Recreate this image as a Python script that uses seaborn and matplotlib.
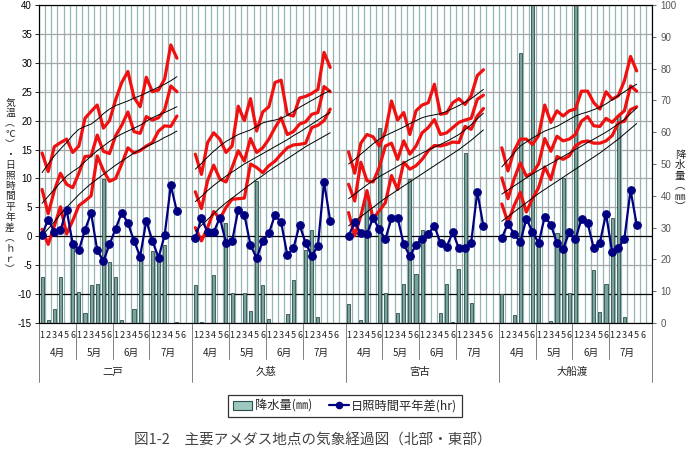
import numpy as np
import pandas as pd
import matplotlib
matplotlib.use("Agg")
import matplotlib.pyplot as plt
import seaborn as sns
from matplotlib.transforms import blended_transform_factory
from matplotlib.patches import Patch
from matplotlib.lines import Line2D

# ---------------- data ----------------
stations = ["二戸", "久慈", "宮古", "大船渡"]
months = ["4月", "5月", "6月", "7月"]
pentads = ["1", "2", "3", "4", "5", "6"]

# 二戸
max1 = [14.4, 11.2, 15.5, 16.2, 16.8, 14.5, 15.6, 20.4, 21.6, 22.7, 18.7, 20.0, 23.6, 26.6, 28.5, 24.0, 22.4, 27.5, 25.0, 25.3, 27.2, 33.1, 30.8]
mean1 = [8.1, 3.9, 7.9, 10.9, 9.0, 8.4, 10.9, 13.8, 13.9, 17.5, 14.7, 14.3, 17.4, 19.2, 21.5, 18.1, 17.8, 20.7, 20.1, 20.5, 21.9, 26.0, 25.0]
min1 = [1.2, -1.4, 1.8, 5.1, 0.4, 2.7, 5.3, 6.1, 7.0, 13.9, 11.4, 9.5, 10.0, 12.5, 15.3, 14.4, 14.8, 15.6, 16.2, 18.2, 19.1, 19.0, 20.8]
nmax1 = [11.0, 12.5, 13.9, 15.1, 16.2, 17.5, 18.5, 19.0, 19.4, 20.2, 21.2, 22.0, 22.6, 23.0, 23.4, 23.9, 24.3, 24.8, 25.3, 25.8, 26.3, 26.9, 27.6]
nmean1 = [5.7, 6.9, 8.1, 9.3, 10.4, 11.2, 11.9, 12.9, 13.9, 14.8, 15.6, 16.4, 17.1, 17.7, 18.2, 18.7, 19.2, 19.9, 20.5, 21.0, 21.4, 21.9, 22.4]
nmin1 = [0.1, 1.3, 2.5, 3.8, 5.0, 6.1, 7.2, 8.2, 9.1, 9.9, 10.7, 11.5, 12.3, 13.0, 13.7, 14.4, 15.0, 15.5, 16.0, 16.5, 17.1, 17.6, 18.2]
sun1 = [0.3, 2.9, 0.8, 1.0, 4.6, -1.3, -2.4, 1.1, 4.0, -2.4, -4.3, -1.4, 1.3, 4.1, 2.3, -0.8, -3.5, 2.7, -0.8, -3.7, 0.2, 8.8, 4.3]
prec1 = [14.6, 0.8, 4.3, 14.5, 0, 24.6, 9.6, 3.1, 12.0, 12.4, 45.4, 19.1, 14.6, 1.0, 0, 4.3, 21.2, 0, 22.5, 21.0, 24.5, 0, 0.4, 0]

# 久慈
max2 = [14.2, 10.7, 16.2, 17.9, 16.8, 14.5, 15.6, 22.5, 20.0, 23.8, 18.2, 21.5, 22.4, 26.6, 27.0, 21.1, 20.8, 23.9, 24.2, 24.7, 25.4, 31.8, 29.2]
mean2 = [7.7, 4.8, 9.6, 12.3, 9.9, 9.4, 11.9, 14.8, 13.0, 16.9, 14.5, 15.3, 16.8, 18.8, 20.5, 17.6, 18.1, 19.4, 19.8, 21.1, 21.4, 25.9, 25.0]
min2 = [1.5, -0.8, 1.5, 4.3, 3.0, 5.0, 6.4, 6.5, 6.6, 12.5, 11.9, 11.0, 12.2, 13.0, 14.2, 15.3, 15.8, 15.9, 16.1, 18.8, 19.2, 20.0, 22.0]
nmax2 = [11.6, 12.6, 13.7, 14.7, 15.6, 16.4, 17.0, 17.6, 18.0, 18.4, 19.0, 19.6, 19.9, 20.1, 20.4, 20.9, 21.6, 22.3, 22.9, 23.5, 24.1, 24.7, 25.2]
nmean2 = [6.0, 6.9, 7.9, 8.8, 9.6, 10.4, 11.1, 11.8, 12.5, 13.1, 13.7, 14.3, 14.9, 15.5, 16.1, 16.7, 17.4, 18.0, 18.7, 19.4, 20.1, 20.8, 21.4]
nmin2 = [0.9, 1.9, 2.9, 3.9, 4.9, 5.8, 6.6, 7.4, 8.2, 9.0, 9.8, 10.5, 11.3, 12.0, 12.7, 13.4, 14.1, 14.8, 15.5, 16.1, 16.7, 17.3, 17.9]
sun2 = [-0.3, 3.1, 0.7, 0.7, 3.2, -1.1, -0.9, 4.6, 3.7, -1.5, -3.8, -0.8, 0.5, 3.7, 2.4, -3.2, -2.1, 2.0, -1.2, -3.4, -1.6, 9.4, 2.7]
prec2 = [12.0, 0.4, 0, 15.1, 0, 31.5, 9.5, 0, 9.5, 3.8, 44.6, 11.8, 1.4, 0, 0, 2.9, 13.4, 0, 23.1, 29.4, 1.9, 0, 0, 0]

# 宮古
max3 = [14.6, 10.9, 16.1, 17.6, 17.2, 15.6, 18.1, 23.4, 20.1, 21.4, 17.6, 21.7, 22.7, 23.1, 26.3, 21.1, 21.3, 23.1, 23.8, 22.8, 24.3, 27.8, 28.8]
mean3 = [9.0, 6.1, 12.8, 9.6, 9.4, 11.9, 15.6, 16.1, 13.3, 16.5, 14.2, 15.6, 17.9, 18.8, 20.2, 17.6, 17.9, 18.8, 19.7, 20.1, 20.4, 23.7, 24.4]
min3 = [4.1, 0.1, 3.5, 7.9, 3.0, 4.4, 5.8, 10.5, 8.1, 12.8, 11.6, 12.2, 13.3, 14.8, 15.7, 15.6, 15.9, 16.3, 16.2, 19.0, 18.5, 20.8, 22.1]
nmax3 = [12.5, 13.3, 14.2, 15.1, 16.0, 16.8, 17.4, 17.9, 18.4, 18.9, 19.5, 20.0, 20.5, 20.8, 21.0, 21.2, 21.6, 22.1, 22.6, 23.2, 23.8, 24.6, 25.4]
nmean3 = [6.5, 7.3, 8.1, 8.9, 9.6, 10.3, 10.9, 11.5, 12.1, 12.7, 13.3, 13.8, 14.4, 14.9, 15.4, 15.9, 16.4, 17.0, 17.6, 18.4, 19.3, 20.3, 21.3]
nmin3 = [1.8, 2.6, 3.4, 4.2, 5.0, 5.8, 6.6, 7.3, 8.0, 8.7, 9.4, 10.1, 10.8, 11.5, 12.2, 12.9, 13.6, 14.3, 15.0, 15.8, 16.6, 17.5, 18.4]
sun3 = [0.1, 2.4, 0.5, 0.4, 3.2, 1.2, -0.5, 3.1, 3.2, -1.4, -3.4, -1.5, -0.5, 0.4, 1.8, -1.2, -1.8, 0.7, -2.1, -2.1, -1.1, 7.7, 1.7]
prec3 = [6.0, 0, 1.0, 40.0, 0, 61.3, 9.5, 0, 3.2, 12.4, 45.2, 15.4, 29.1, 0, 0, 3.2, 12.4, 0.3, 17.0, 53.6, 6.3, 0, 0, 0]

# 大船渡
max4 = [15.3, 11.3, 14.8, 16.8, 16.8, 15.9, 17.4, 22.7, 19.7, 21.7, 20.8, 21.7, 22.0, 25.1, 25.1, 23.1, 22.0, 25.0, 23.7, 24.3, 26.9, 31.1, 28.6]
mean4 = [10.1, 6.5, 9.9, 12.7, 10.4, 10.9, 12.5, 16.9, 14.7, 17.3, 16.5, 16.8, 17.6, 19.9, 20.7, 19.1, 19.0, 20.4, 19.7, 20.8, 21.7, 26.0, 25.1]
min4 = [5.6, 2.4, 5.3, 7.6, 4.2, 6.5, 8.4, 12.0, 9.8, 13.8, 13.3, 13.9, 15.6, 16.3, 16.5, 16.1, 16.1, 16.5, 17.4, 19.6, 19.9, 21.9, 22.4]
nmax4 = [12.0, 13.2, 14.4, 15.6, 16.3, 17.0, 17.6, 18.2, 18.6, 19.0, 19.6, 20.2, 20.8, 21.2, 21.5, 21.9, 22.3, 22.9, 23.6, 24.3, 25.0, 25.7, 26.3]
nmean4 = [7.3, 8.0, 8.7, 9.4, 10.1, 10.8, 11.4, 12.0, 12.6, 13.2, 13.8, 14.4, 15.0, 15.6, 16.2, 16.8, 17.4, 18.0, 18.7, 19.4, 20.2, 21.2, 22.2]
nmin4 = [2.6, 3.4, 4.2, 5.0, 5.8, 6.6, 7.4, 8.1, 8.8, 9.5, 10.2, 10.9, 11.6, 12.3, 13.0, 13.7, 14.4, 15.2, 16.0, 16.8, 17.7, 18.6, 19.5]
sun4 = [-0.3, 2.2, 0.4, -1.0, 3.0, 0.8, -1.2, 3.4, 2.0, -1.2, -2.2, 0.7, -0.5, 3.0, 2.3, -2.1, -1.1, 3.9, -2.8, -2.1, -0.4, 8.0, 2.0]
prec4 = [9.0, 0, 2.4, 85.0, 0, 110.0, 25.0, 0, 0.5, 28.4, 45.5, 9.4, 105.0, 0, 0, 16.6, 3.4, 12.4, 33.0, 65.3, 1.9, 0, 0, 0]

temp_max = [max1, max2, max3, max4]
temp_mean = [mean1, mean2, mean3, mean4]
temp_min = [min1, min2, min3, min4]
norm_max = [nmax1, nmax2, nmax3, nmax4]
norm_mean = [nmean1, nmean2, nmean3, nmean4]
norm_min = [nmin1, nmin2, nmin3, nmin4]
sunshine = [sun1, sun2, sun3, sun4]
precip = [prec1, prec2, prec3, prec4]

# ---------------- categories ----------------
order = []
rows = []
for si, st in enumerate(stations):
    for mi, mo in enumerate(months):
        for pi, pe in enumerate(pentads):
            cat = f"{st}{mo}{pe}"
            order.append(cat)
            rows.append({"cat": cat, "precip": precip[si][mi * 6 + pi]})
    order.append(f"{st}-blank")
dfp = pd.DataFrame(rows)
slot = 25  # 24 pentads + 1 blank per station

# ---------------- style ----------------
sns.set_theme(style="white")
plt.rcParams['font.family'] = ['Noto Sans CJK JP', 'DejaVu Sans']

W, H = 690, 455
fig = plt.figure(figsize=(W / 100, H / 100), dpi=100)
L, R, T, B = 39, 652, 5, 323
axb = fig.add_axes([L / W, 1 - B / H, (R - L) / W, (B - T) / H])
axt = axb.twinx()

grid_v = "#95B4B4"
grid_h = "#A6A6A6"

# bars (precipitation, right axis)
sns.barplot(data=dfp, x="cat", y="precip", order=order, ax=axb,
            color="#7BA39D", saturation=1, width=0.5, errorbar=None,
            edgecolor="#2F4F4A", linewidth=0.6, zorder=2)
axb.set_ylim(0, 100)

# gridlines on the bottom axes
for k in range(len(order) + 1):
    axb.axvline(k - 0.5, color=grid_v, lw=0.9, zorder=0.5)
for v in range(-15, 41, 5):
    p = (v + 15) / 55 * 100
    col = "black" if v in (0, -10) else grid_h
    axb.axhline(p, color=col, lw=0.9, zorder=0.6)

# lines (temperature & sunshine, left axis)
for si in range(4):
    xs = si * slot + np.arange(len(temp_max[si]))
    for series in (temp_max, temp_mean, temp_min):
        sns.lineplot(x=xs, y=series[si], ax=axt, color="#F01010", linewidth=2.3,
                     errorbar=None, sort=False, legend=False)
    for series in (norm_max, norm_mean, norm_min):
        sns.lineplot(x=xs, y=series[si], ax=axt, color="black", linewidth=0.7,
                     errorbar=None, sort=False, legend=False)
    sns.lineplot(x=xs, y=sunshine[si], ax=axt, color="#000080", linewidth=1.6,
                 marker="o", markersize=5.5, markeredgecolor="#000080",
                 errorbar=None, sort=False, legend=False)

axt.set_ylim(-15, 40)
axb.set_xlim(-0.5, len(order) - 0.5)

# axes cosmetics
for ax in (axb, axt):
    ax.set_xlabel("")
    ax.set_ylabel("")
    for sp in ax.spines.values():
        sp.set_color("black")
        sp.set_linewidth(0.8)
axb.set_xticks(np.arange(-0.5, len(order), 1))
axb.set_xticklabels([])
axb.tick_params(axis="x", length=3, width=0.6, color="#808080", direction="out")
axt.tick_params(axis="x", length=0)

axt.yaxis.tick_left()
axt.yaxis.set_label_position("left")
axb.yaxis.tick_right()
axb.yaxis.set_label_position("right")
axt.set_yticks(range(-15, 41, 5))
axt.set_yticklabels([str(v) for v in range(-15, 41, 5)], family="Liberation Sans", fontsize=7)
axt.tick_params(axis="y", length=3, width=0.6, direction="out", pad=2, colors="black")
axb.set_yticks(range(0, 101, 10))
axb.set_yticklabels([str(v) for v in range(0, 101, 10)], family="Liberation Sans", fontsize=7, color="#555555")
axb.tick_params(axis="y", length=3, width=0.6, direction="out", pad=3, color="#555555")

# category labels below the axis
tr = blended_transform_factory(axt.transData, axt.transAxes)
ph = B - T
def yax(ypix):
    return -(ypix - B) / ph

for si, st in enumerate(stations):
    base = si * slot
    for mi, mo in enumerate(months):
        for pi, pe in enumerate(pentads):
            axt.text(base + mi * 6 + pi, yax(335), pe, transform=tr, ha="center",
                     va="center", fontsize=6.5, color="#222222")
        axt.text(base + mi * 6 + 2.5, yax(353), mo, transform=tr, ha="center",
                 va="center", fontsize=7, color="#222222")
        if mi > 0:
            xsep = base + mi * 6 - 0.5
            axt.plot([xsep, xsep], [0, yax(359)], transform=tr, color="#808080",
                     lw=0.7, clip_on=False)
    axt.text(base + 11.5, yax(372), st, transform=tr, ha="center", va="center",
             fontsize=7.5, color="#222222")
for si in range(5):
    xsep = si * slot - 0.5
    axt.plot([xsep, xsep], [0, yax(382)], transform=tr, color="#808080",
             lw=0.7, clip_on=False)

# axis titles (vertical Japanese)
left_label = ["気", "温", "︵", "℃", "︶", "・", "日", "照", "時", "間", "平", "年", "差", "︵", "ｈ", "ｒ", "︶"]
fig.text(10 / W, 1 - 186 / H, "\n".join(left_label), ha="center", va="center",
         fontsize=7, linespacing=1.05, color="#222222")
right_label = ["降", "水", "量", "︵", "㎜", "︶"]
fig.text(680 / W, 1 - 181 / H, "\n".join(right_label), ha="center", va="center",
         fontsize=7.5, linespacing=1.05, color="#222222")

# legend
handles = [Patch(facecolor="#9CC8C0", edgecolor="#2F4F4A", linewidth=0.8),
           Line2D([], [], color="#000080", lw=1.6, marker="o", markersize=4.5)]
leg = fig.legend(handles, ["降水量(㎜)", "日照時間平年差(hr)"], loc="center",
                 bbox_to_anchor=(345 / W, 1 - 406 / H), ncol=2, frameon=True,
                 fancybox=False, fontsize=8.8, handlelength=1.6, handletextpad=0.2,
                 columnspacing=1.4, borderpad=0.4)
leg.get_frame().set_edgecolor("black")
leg.get_frame().set_linewidth(0.9)

# caption
fig.text(313 / W, 1 - 441 / H, "図1-2　主要アメダス地点の気象経過図（北部・東部）",
         ha="center", va="center", fontsize=10.5, color="#444444")

fig.savefig("out.png", dpi=100)
